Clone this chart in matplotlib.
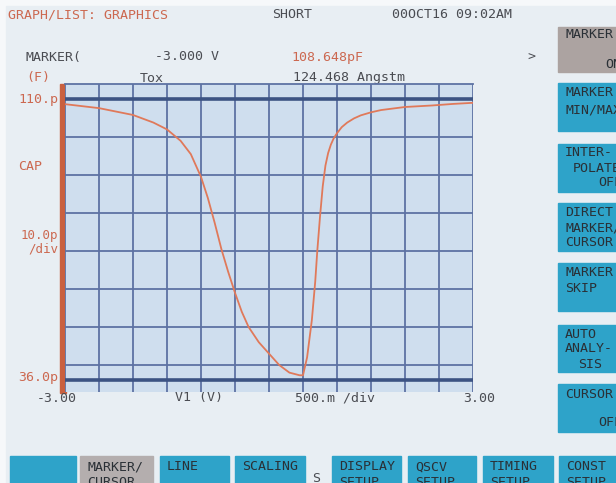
import numpy as np
import matplotlib
matplotlib.use("Agg")
import matplotlib.pyplot as plt
from matplotlib.patches import Rectangle

# Quasi-static C-V sweep: gate voltage (V) vs capacitance (pF)
gate_v = [-3.0, -2.5, -2.0, -1.7, -1.5, -1.3, -1.15, -1.0, -0.9, -0.8,
          -0.7, -0.6, -0.5, -0.4, -0.3, -0.15, 0.0, 0.15, 0.3, 0.45,
          0.5, 0.56, 0.63, 0.68, 0.71, 0.75, 0.79, 0.83, 0.87, 0.91,
          0.95, 1.0, 1.07, 1.15, 1.25, 1.35, 1.5, 1.65, 2.0, 2.4, 2.7, 3.0]
cap_pf = [108.648, 107.6, 105.8, 103.8, 102.0, 99.0, 95.5, 89.5, 84.0, 77.5,
          70.5, 64.5, 59.0, 54.0, 50.0, 46.0, 43.0, 40.0, 38.0, 37.3,
          37.3, 42.0, 51.8, 62.0, 70.0, 79.0, 87.0, 92.5, 95.8, 98.0,
          99.6, 101.0, 102.6, 103.8, 104.9, 105.7, 106.5, 107.1, 107.9, 108.3, 108.7, 109.0]

x_grid = np.arange(-3.0, 3.01, 0.5)          # 500 mV / div
y_grid = [40, 50, 60, 70, 80, 90, 100]        # 10 pF / div
y_low, y_high = 36.0, 110.0                   # scale limits

W, H = 616, 483
RED = "#cc6850"
DARK = "#4a4c52"
CYAN = "#2ea3c9"
FONT = "DejaVu Sans Mono"

fig = plt.figure(figsize=(W / 100, H / 100), dpi=100)
fig.patch.set_facecolor("#f6f8fa")
bg = fig.add_axes([0, 0, 1, 1])
bg.set_xlim(0, W)
bg.set_ylim(H, 0)
bg.axis("off")
bg.add_patch(Rectangle((6, 6), W, H, color="#e8eef3", zorder=0))


def label(x, y, s, color=DARK, ha="left", size=9.5):
    bg.text(x, y, s, color=color, ha=ha, va="center", fontsize=size,
            family=FONT, zorder=5)


# header lines
label(8, 15, "GRAPH/LIST: GRAPHICS", RED)
label(272, 15, "SHORT")
label(392, 15, "00OCT16 09:02AM")
label(26, 57, "MARKER(")
label(155, 57, "-3.000 V")
label(291, 57, "108.648pF", RED)
label(527, 57, ">")
label(26, 78, "(F)", RED)
label(140, 78, "Tox")
label(293, 78, "124.468 Angstm")

# y-axis labels
label(58, 99, "110.p", RED, ha="right")
label(18, 167, "CAP", RED)
label(58, 236, "10.0p", RED, ha="right", size=9)
label(58, 249, "/div", RED, ha="right", size=9)
label(58, 378, "36.0p", RED, ha="right")

# x-axis labels
label(37, 398, "-3.00")
label(175, 398, "V1 (V)")
label(295, 398, "500.m /div")
label(463, 398, "3.00")

# marker cursor bar
bg.add_patch(Rectangle((60, 84), 5.5, 309, color="#c9603f", zorder=3))

# right-hand softkeys
right_keys = [
    (27, 72, "#aca3a1", [(565, 34, "MARKER"), (605, 64, "ON")]),
    (83, 131, CYAN, [(565, 93, "MARKER"), (565, 110, "MIN/MAX")]),
    (144, 192, CYAN, [(565, 153, "INTER-"), (573, 168, "POLATE"), (598, 183, "OFF")]),
    (203, 251, CYAN, [(565, 213, "DIRECT"), (565, 228, "MARKER/"), (565, 243, "CURSOR")]),
    (263, 311, CYAN, [(565, 273, "MARKER"), (565, 289, "SKIP")]),
    (325, 372, CYAN, [(565, 334, "AUTO"), (565, 349, "ANALY-"), (578, 365, "SIS")]),
    (384, 432, CYAN, [(565, 394, "CURSOR"), (598, 423, "OFF")]),
]
for top, bot, col, lines in right_keys:
    bg.add_patch(Rectangle((558, top), 80, bot - top, color=col, zorder=1))
    for x, y, s in lines:
        label(x, y, s, "#2a3036")

# bottom softkeys
bottom_keys = [
    (10, 76, CYAN, []),
    (80, 153, "#b4aeae", ["MARKER/", "CURSOR"]),
    (160, 229, CYAN, ["LINE"]),
    (235, 305, CYAN, ["SCALING"]),
    (332, 401, CYAN, ["DISPLAY", "SETUP"]),
    (408, 476, CYAN, ["QSCV", "SETUP"]),
    (483, 553, CYAN, ["TIMING", "SETUP"]),
    (559, 640, CYAN, ["CONST", "SETUP"]),
]
for x0, x1, col, lines in bottom_keys:
    bg.add_patch(Rectangle((x0, 456), x1 - x0, 40, color=col, zorder=1))
    for i, s in enumerate(lines):
        label(x0 + 7, 467 + 15 * i, s, "#2a3036")
label(312, 478, "S")

# plot area
ax = fig.add_axes([65 / W, (H - 392) / H, 408 / W, 308 / H])
ax.set_facecolor("#cfdeee")
ax.set_xlim(-3.0, 3.0)
ax.set_ylim(32.9, 113.95)
for v in x_grid:
    ax.axvline(v, color="#5d72a3", lw=1.3, zorder=1)
for c in y_grid:
    ax.axhline(c, color="#5d72a3", lw=1.3, zorder=1)
for c in (y_low, y_high):
    ax.axhline(c, color="#3c5383", lw=2.6, zorder=2)
ax.plot(gate_v, cap_pf, color="#e0795a", lw=1.3, zorder=3)
ax.set_xticks([])
ax.set_yticks([])
for side in ("left", "right", "bottom"):
    ax.spines[side].set_visible(False)
ax.spines["top"].set_color("#5d72a3")
ax.spines["top"].set_linewidth(1.3)

fig.savefig("out.png", dpi=100)
